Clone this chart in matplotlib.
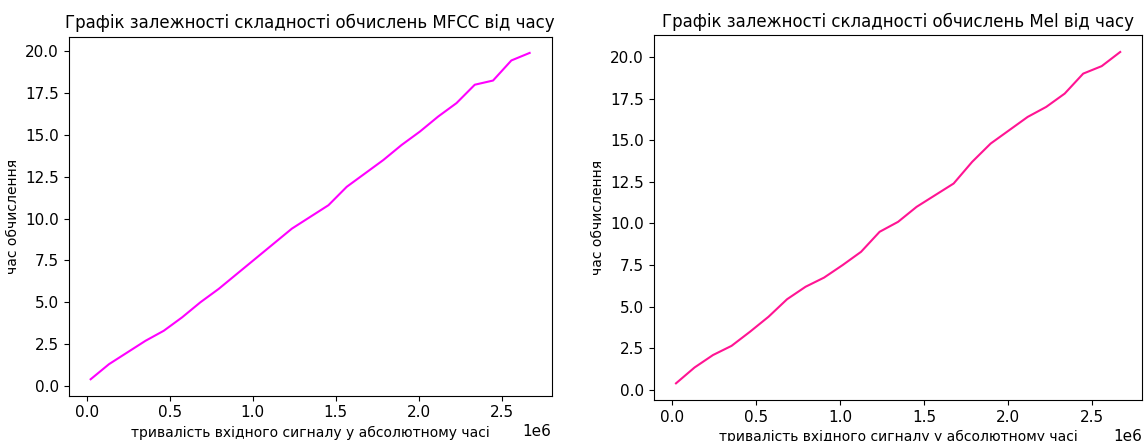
import numpy as np
import matplotlib
matplotlib.use('Agg')
import matplotlib.pyplot as plt

# signal length (samples) and computation time
signal_len = [0.0225e6, 0.1328e6, 0.2430e6, 0.3533e6, 0.4635e6, 0.5738e6, 0.6840e6,
              0.7943e6, 0.9045e6, 1.0148e6, 1.1250e6, 1.2353e6, 1.3455e6, 1.4558e6,
              1.5660e6, 1.6763e6, 1.7865e6, 1.8968e6, 2.0070e6, 2.1173e6, 2.2275e6,
              2.3378e6, 2.4480e6, 2.5583e6, 2.6685e6]

mfcc_time = [0.4, 1.3, 2.0, 2.7, 3.3, 4.1, 5.0, 5.8, 6.7, 7.6, 8.5, 9.4, 10.1,
             10.8, 11.9, 12.7, 13.5, 14.4, 15.2, 16.1, 16.9, 18.0, 18.25, 19.45, 19.9]

mel_time = [0.4, 1.35, 2.1, 2.65, 3.5, 4.4, 5.45, 6.2, 6.75, 7.5, 8.3, 9.5, 10.1,
            11.0, 11.7, 12.4, 13.7, 14.8, 15.6, 16.4, 17.0, 17.8, 19.0, 19.45, 20.3]

x_label = 'тривалість вхідного сигналу у абсолютному часі'
y_label = 'час обчислення'

plt.rcParams['font.size'] = 10
plt.rcParams['xtick.labelsize'] = 11
plt.rcParams['ytick.labelsize'] = 11

fig = plt.figure(figsize=(11.47, 4.41), dpi=100)

ax1 = fig.add_axes([0.0599, 0.103, 0.421, 0.814])
ax1.plot(signal_len, mfcc_time, color='magenta')
ax1.set_title('Графік залежності складності обчислень MFCC від часу', fontsize=12)
ax1.set_xlabel(x_label)
ax1.set_ylabel(y_label)

ax2 = fig.add_axes([0.57, 0.0932, 0.426, 0.8265])
ax2.plot(signal_len, mel_time, color='deeppink')
ax2.set_title('Графік залежності складності обчислень Mel від часу', fontsize=12)
ax2.set_xlabel(x_label)
ax2.set_ylabel(y_label)

fig.savefig('out.png')
